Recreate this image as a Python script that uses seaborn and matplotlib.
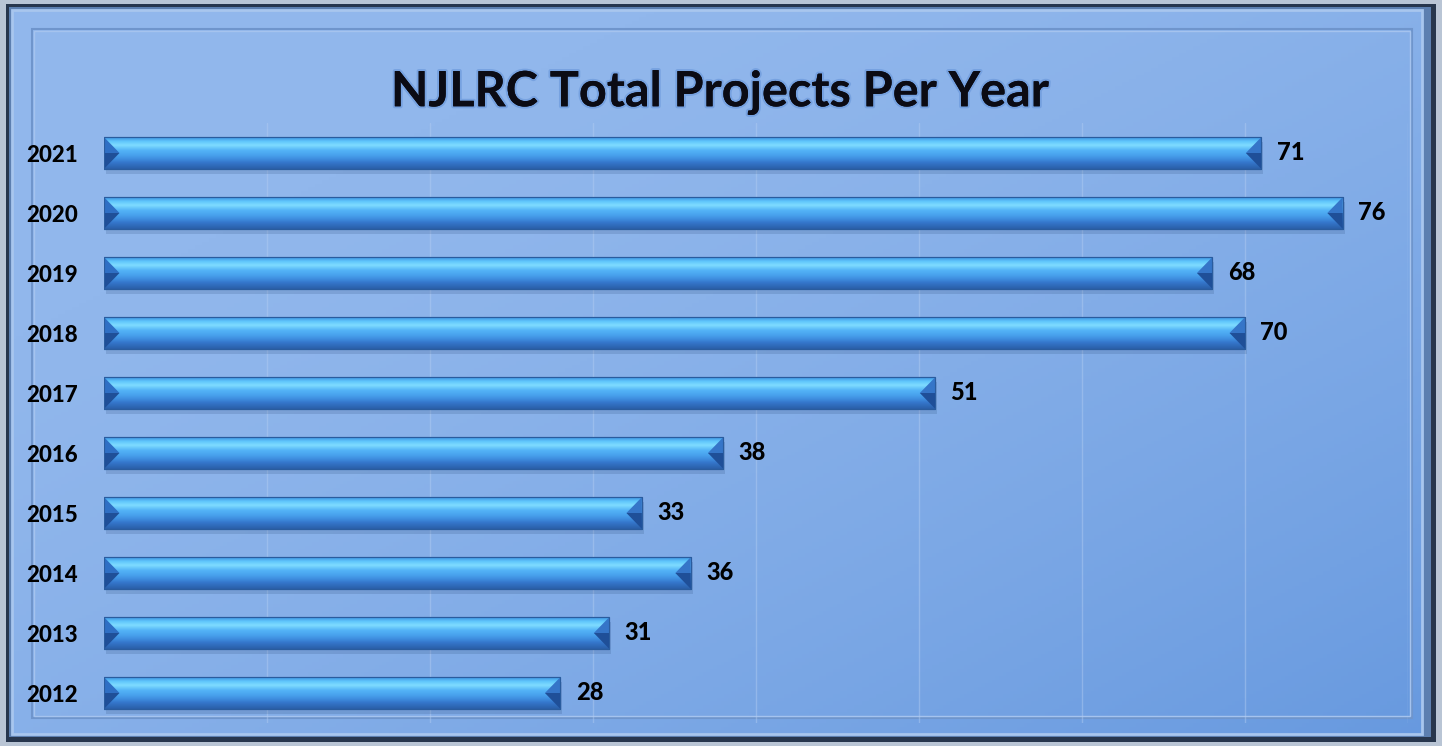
import numpy as np
import matplotlib
matplotlib.use("Agg")
import matplotlib.pyplot as plt
import matplotlib.patheffects as pe
from matplotlib.patches import Rectangle, Polygon
from matplotlib.colors import LinearSegmentedColormap
import seaborn as sns
import pandas as pd

years = ["2021", "2020", "2019", "2018", "2017", "2016", "2015", "2014", "2013", "2012"]
projects = [71, 76, 68, 70, 51, 38, 33, 36, 31, 28]
title = "NJLRC Total Projects Per Year"
x_max = 80
x_step = 10

sns.set_theme(style="white")
plt.rcParams["font.family"] = ["Lato", "DejaVu Sans"]

W, H = 1442, 746
fig = plt.figure(figsize=(W / 100, H / 100), dpi=100)
fig.patch.set_facecolor("#b9c5d5")

# ---- background frame & panel ----
bg = fig.add_axes([0, 0, 1, 1], zorder=-10)
bg.set_xlim(0, W)
bg.set_ylim(H, 0)
bg.axis("off")
bg.add_patch(Rectangle((6, 4), W - 12, H - 8, facecolor="#27364d", edgecolor="none"))
bg.add_patch(Rectangle((9, 7), W - 20, H - 16, facecolor="#5c7fb0", edgecolor="none"))
gy, gx = np.mgrid[0:1:200j, 0:1:400j]
t = np.clip(0.55 * gx + 0.55 * gy - 0.25, 0, 1) ** 1.4
c0 = np.array([0x91, 0xb7, 0xec]) / 255
c1 = np.array([0x5d, 0x92, 0xdc]) / 255
img = c0[None, None, :] * (1 - t[..., None]) + c1[None, None, :] * t[..., None]
bg.imshow(img, extent=(12, W - 20, H - 12, 10), aspect="auto", zorder=1)
bg.set_xlim(0, W)
bg.set_ylim(H, 0)
bg.add_patch(Rectangle((12, 10), W - 32, H - 22, facecolor="none", edgecolor="#a8c6ee", lw=2, zorder=2))
bg.add_patch(Rectangle((32, 29), W - 62, H - 57, facecolor="none", edgecolor="#6f95cc", lw=1.5, zorder=2))
bg.add_patch(Rectangle((34, 31), W - 66, H - 61, facecolor="none", edgecolor="#a5c3ee", lw=1, zorder=2))

# ---- chart axes ----
ax = fig.add_axes([104 / W, 1 - 723 / H, (1408 - 104) / W, (723 - 123) / H])
ax.patch.set_alpha(0)
df = pd.DataFrame({"year": years, "projects": projects})
sns.barplot(data=df, x="projects", y="year", orient="h", width=0.53,
            color="#4aa6f0", edgecolor="#2a5c9e", linewidth=0.8, ax=ax, zorder=3)
ax.set_xlim(0, x_max)
ylim = ax.get_ylim()
xlim = ax.get_xlim()

bar_cmap = LinearSegmentedColormap.from_list(
    "bar", [(0.0, "#3d8fe0"), (0.12, "#5ec4fb"), (0.25, "#7fdcff"), (0.42, "#52b2f6"),
            (0.55, "#4aa4ef"), (0.68, "#3f8fe0"), (0.80, "#3577cc"), (1.0, "#2a5fa8")])
grad = np.linspace(0, 1, 64)[:, None]
chev = 0.95  # chevron depth in data units
for p, v in zip(list(ax.patches), projects):
    x0, y0 = p.get_x(), p.get_y()
    w, h = p.get_width(), p.get_height()
    y1 = y0 + h
    ym = y0 + h / 2
    x1 = x0 + w
    ax.add_patch(Rectangle((x0 + 0.12, y0 + 0.08), w, h, facecolor="#1d3c6a", alpha=0.16,
                           edgecolor="none", zorder=2))
    im = ax.imshow(grad, extent=(x0, x1, y1, y0), cmap=bar_cmap, aspect="auto", zorder=4)
    im.set_clip_path(p)
    ax.add_patch(Polygon([(x0, y0), (x0 + chev, ym), (x0, ym)], closed=True,
                         facecolor="#2f6fc4", edgecolor="none", zorder=5))
    ax.add_patch(Polygon([(x0, ym), (x0 + chev, ym), (x0, y1)], closed=True,
                         facecolor="#1f4f98", edgecolor="none", zorder=5))
    ax.add_patch(Polygon([(x1, y0), (x1 - chev, ym), (x1, ym)], closed=True,
                         facecolor="#3575c8", edgecolor="none", zorder=5))
    ax.add_patch(Polygon([(x1, ym), (x1 - chev, ym), (x1, y1)], closed=True,
                         facecolor="#1f4f98", edgecolor="none", zorder=5))
    ax.add_patch(Rectangle((x0, y0), w, h, facecolor="none", edgecolor="#2a5c9e", lw=0.8, zorder=6))
    ax.annotate(f"{v}", (x1, ym), xytext=(11, 0), textcoords="offset points",
                ha="left", va="center", fontsize=17, fontweight=900, color="black", zorder=7)

ax.set_xlim(xlim)
ax.set_ylim(ylim)
for v in np.arange(x_step, x_max + 1, x_step):
    ax.axvline(v, color="#b3cdf2", lw=1.0, alpha=0.45, zorder=0)
for s in ax.spines.values():
    s.set_visible(False)
ax.set_xticks([])
ax.set_xlabel("")
ax.set_ylabel("")
ax.set_yticks(range(len(years)))
ax.set_yticklabels(years, fontsize=16, fontweight=900, color="black")
ax.tick_params(axis="y", length=0, pad=19)

fig.text(720 / W, 1 - 92 / H, title, ha="center", va="center", fontsize=35, fontweight="bold",
         color="#0b0b14",
         path_effects=[pe.withStroke(linewidth=3, foreground="#5f8fd6", alpha=0.5), pe.Normal()])

fig.savefig("out.png", dpi=100, facecolor=fig.get_facecolor())
